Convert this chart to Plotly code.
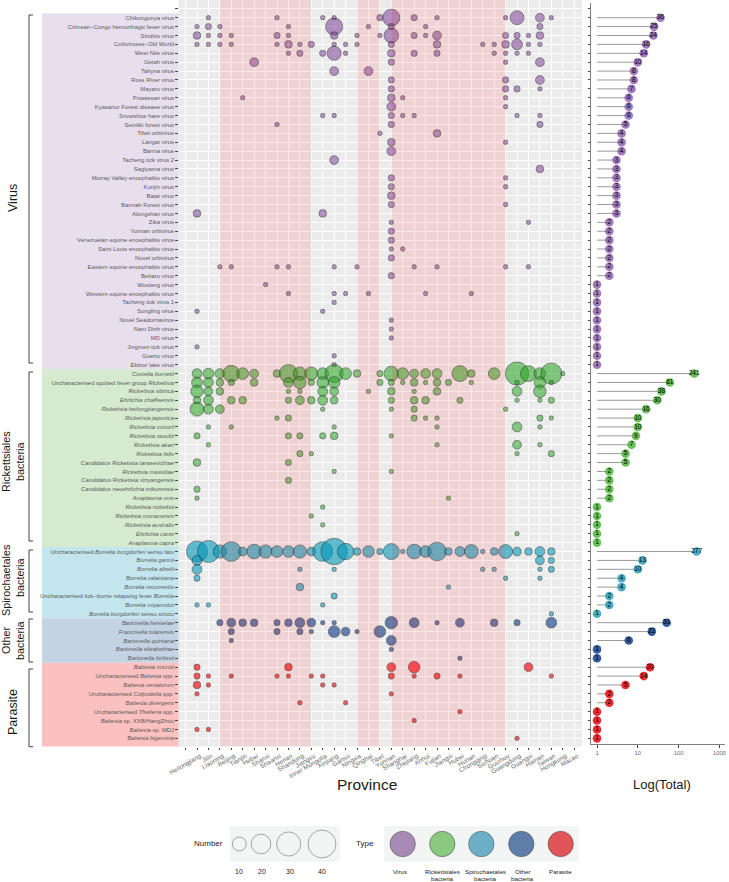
import math
import plotly.graph_objects as go

FONT = "Liberation Sans"
W, H = 729, 882

provinces = ["", "Heilongjiang", "Jilin", "Liaoning", "Beijing", "Tianjin", "Hebei", "Shanxi", "Shaanxi",
             "Henan", "Shandong", "Jiangsu", "Inner Mongolia", "Xinjiang", "Gansu", "Ningxia", "Qinghai",
             "Tibet", "Yunnan", "Shanghai", "Zhejiang", "Anhui", "Fujian", "Jiangxi", "Hubei", "Hunan",
             "Chongqing", "Sichuan", "Guizhou", "Guangdong", "Guangxi", "Hainan", "Taiwan", "Hongkong", "Macao"]

virus_names = ["Chikungunya virus", "Crimean−Congo hemorrhagic fever virus", "Sindbis virus",
               "Coltiviruses−Old World", "West Nile virus", "Getah virus", "Tahyna virus", "Ross River virus",
               "Mayaro virus", "Powassan virus", "Kyasanur Forest disease virus", "Snowshoe hare virus",
               "Semliki forest virus", "Tibet orbivirus", "Langat virus", "Banna virus", "Tacheng tick virus 2",
               "Sagiyama virus", "Murray Valley encephalitis virus", "Kunjin virus", "Batai virus",
               "Barmah Forest virus", "Alongshan virus", "Zika virus", "Yunnan orbivirus",
               "Venezuelan equine encephalitis virus", "Saint Louis encephalitis virus", "Novel orbivirus",
               "Eastern equine encephalitis virus", "Bebaru virus", "Wuxiang virus",
               "Western equine encephalitis virus", "Tacheng tick virus 1", "Songling virus",
               "Novel Seadornavirus", "Nam Dinh virus", "MD virus", "Jingmen tick virus", "Guertu virus",
               "Ebinur lake virus"]
virus_totals = [36, 25, 24, 16, 14, 10, 8, 8, 7, 6, 6, 6, 5, 4, 4, 4, 3, 3, 3, 3, 3, 3, 3,
                2, 2, 2, 2, 2, 2, 2, 1, 1, 1, 1, 1, 1, 1, 1, 1, 1]

rick_names = ["<i>Coxiella burnetii</i>", "Uncharacterised spotted fever group <i>Rickettsia</i>",
              "<i>Rickettsia sibirica</i>", "<i>Ehrlichia chaffeensis</i>", "<i>Rickettsia heilongjiangensis</i>",
              "<i>Rickettsia japonica</i>", "<i>Rickettsia conorii</i>", "<i>Rickettsia raoultii</i>",
              "<i>Rickettsia akari</i>", "<i>Rickettsia felis</i>", "<i>Candidatus</i> Rickettsia tarasevichiae",
              "<i>Rickettsia massiliae</i>", "<i>Candidatus</i> Rickettsia xinyangensis",
              "<i>Candidatus</i> neoehrlichia mikurensis", "<i>Anaplasma ovis</i>", "<i>Rickettsia rickettsii</i>",
              "<i>Rickettsia monacensis</i>", "<i>Rickettsia australis</i>", "<i>Ehrlichia canis</i>",
              "<i>Anaplasma capra</i>"]
rick_totals = [241, 61, 38, 30, 16, 10, 10, 9, 7, 5, 5, 2, 2, 2, 2, 1, 1, 1, 1, 1]

spiro_names = ["Uncharacterised <i>Borrelia burgdorferi</i> sensu lato", "<i>Borrelia garinii</i>",
               "<i>Borrelia afzelii</i>", "<i>Borrelia valaisiana</i>", "<i>Borrelia recurrentis</i>",
               "Uncharacterised tick−borne relapsing fever <i>Borrelia</i>", "<i>Borrelia miyamotoi</i>",
               "<i>Borrelia burgdorferi</i> sensu stricto"]
spiro_totals = [277, 13, 10, 4, 4, 2, 2, 1]

other_names = ["<i>Bartonella henselae</i>", "<i>Francisella tularensis</i>", "<i>Bartonella quintana</i>",
               "<i>Bartonella elizabethae</i>", "<i>Bartonella birtlesii</i>"]
other_totals = [51, 22, 6, 1, 1]

parasite_names = ["<i>Babesia microti</i>", "Uncharacterised <i>Babesia</i> spp.", "<i>Babesia venatorum</i>",
                  "Uncharacterised <i>Colpodella</i> spp.", "<i>Babesia divergens</i>",
                  "Uncharacterised <i>Theileria</i> spp.", "<i>Babesia</i> sp. XXB/HangZhou",
                  "<i>Babesia</i> sp. MDJ", "<i>Babesia bigemina</i>"]
parasite_totals = [20, 14, 5, 2, 2, 1, 1, 1, 1]

# (row within group, province index with Heilongjiang = 0, number)
virus_cells = [
    (0,1,1),(0,7,1),(0,11,1),(0,12,1),(0,16,2),(0,17,15),(0,19,2),(0,21,1),(0,27,1),(0,28,10),(0,30,4),(0,31,1),
    (1,0,1),(1,1,2),(1,2,1),(1,8,1),(1,12,15),(1,15,1),(1,17,2),(1,20,1),(1,30,2),
    (2,0,3),(2,1,1),(2,2,1),(2,3,1),(2,7,2),(2,8,1),(2,12,3),(2,14,1),(2,16,1),(2,17,11),(2,19,2),(2,20,1),(2,21,4),(2,27,2),(2,28,2),(2,29,1),(2,30,3),
    (3,0,1),(3,1,1),(3,2,1),(3,3,1),(3,7,1),(3,8,3),(3,9,1),(3,10,2),(3,12,1),(3,13,1),(3,14,1),(3,17,2),(3,21,3),(3,25,1),(3,26,1),(3,27,3),(3,28,6),(3,29,1),(3,30,1),
    (4,8,1),(4,9,2),(4,11,2),(4,12,10),(4,13,1),(4,17,3),(4,19,2),(4,21,2),(4,26,1),(4,27,1),(4,28,1),(4,29,1),
    (5,5,4),(5,17,2),(5,27,1),(5,30,4),
    (6,12,4),(6,15,4),
    (7,17,2),(7,27,2),(7,30,4),
    (8,17,2),(8,27,2),(8,28,2),(8,30,1),
    (9,4,1),(9,17,3),(9,18,1),(9,27,1),
    (10,17,4),(10,27,1),
    (11,11,1),(11,12,1),(11,17,2),(11,18,1),(11,19,1),(11,28,1),(11,30,1),
    (12,7,1),(12,17,2),(12,30,2),
    (13,16,1),(13,21,3),
    (14,17,3),(14,27,1),
    (15,17,4),
    (16,12,4),
    (17,30,3),
    (18,17,2),(18,27,1),
    (19,17,2),(19,27,1),
    (20,17,3),
    (21,17,2),(21,27,1),
    (22,0,3),(22,11,3),
    (23,17,1),(23,29,1),
    (24,17,2),
    (25,17,2),
    (26,17,1),(26,18,1),
    (27,17,2),
    (28,2,1),(28,3,1),(28,7,1),(28,8,1),(28,12,1),(28,14,1),(28,19,1),(28,21,1),(28,27,1),(28,29,1),
    (29,17,2),
    (30,6,1),
    (31,8,1),(31,12,1),(31,13,1),(31,15,1),(31,20,1),(31,24,1),
    (32,12,1),
    (33,0,1),(33,11,1),
    (34,17,1),(35,17,1),(36,17,1),
    (37,0,1),
    (38,12,1),
    (39,12,1),
]

rick_cells = [
    (0,0,5),(0,1,6),(0,2,5),(0,3,14),(0,4,7),(0,5,4),(0,7,3),(0,8,17),(0,9,9),(0,10,9),(0,11,7),(0,12,17),(0,13,7),(0,14,3),
    (0,16,2),(0,17,11),(0,18,7),(0,19,4),(0,20,5),(0,21,5),(0,23,13),(0,24,3),(0,26,7),(0,28,28),(0,29,13),(0,30,7),(0,31,23),(0,32,1),
    (1,0,6),(1,1,5),(1,2,3),(1,3,2),(1,5,3),(1,8,5),(1,9,8),(1,10,2),(1,11,7),(1,12,7),
    (1,16,2),(1,17,2),(1,18,1),(1,19,3),(1,20,1),(1,21,3),(1,22,2),(1,24,1),(1,28,1),(1,30,7),(1,31,1),
    (2,0,8),(2,1,4),(2,2,3),(2,8,1),(2,9,1),(2,11,5),(2,12,4),(2,15,1),(2,17,3),(2,19,1),(2,21,3),(2,28,5),(2,30,8),
    (3,0,3),(3,1,5),(3,3,3),(3,4,3),(3,8,2),(3,9,4),(3,10,3),(3,11,5),(3,12,3),(3,17,2),(3,19,3),(3,20,3),(3,23,2),(3,28,1),(3,30,1),(3,31,2),
    (4,0,10),(4,1,5),(4,2,4),(4,11,1),(4,17,1),(4,19,2),(4,27,1),
    (5,7,1),(5,8,2),(5,19,2),(5,20,1),(5,21,1),(5,30,2),(5,31,1),
    (6,1,1),(6,3,1),(6,12,1),(6,21,1),(6,28,5),(6,30,1),
    (7,0,2),(7,8,2),(7,9,2),(7,11,2),(7,12,3),(7,17,1),
    (8,1,1),(8,21,1),(8,28,4),(8,30,1),
    (9,9,2),(9,10,1),(9,28,1),(9,31,2),
    (10,0,3),(10,8,2),
    (11,12,1),(11,17,1),
    (12,8,2),
    (13,0,2),
    (14,0,1),(14,22,1),
    (15,11,1),
    (16,10,1),
    (17,11,1),
    (18,28,1),
]

spiro_cells = [
    (0,0,23),(0,1,25),(0,2,9),(0,3,20),(0,4,4),(0,5,11),(0,6,9),(0,7,7),(0,8,7),(0,9,9),(0,10,4),(0,11,20),(0,12,36),(0,13,14),(0,14,3),
    (0,15,7),(0,16,2),(0,17,13),(0,18,1),(0,19,11),(0,20,7),(0,21,18),(0,22,3),(0,23,5),(0,24,10),(0,25,1),(0,26,3),(0,27,10),(0,28,4),(0,29,3),(0,30,5),(0,31,3),
    (1,0,5),(1,30,4),(1,31,2),
    (2,0,5),(2,9,1),(2,12,1),(2,25,1),(2,26,1),(2,30,1),(2,31,2),
    (3,0,2),(3,27,1),(3,30,1),
    (4,9,3),(4,22,1),
    (5,12,2),
    (6,0,1),(6,1,1),(6,11,1),
    (7,31,1),
]

other_cells = [
    (0,2,2),(0,3,4),(0,4,3),(0,5,3),(0,7,2),(0,8,3),(0,9,5),(0,10,4),(0,11,1),(0,12,1),(0,17,8),(0,19,5),(0,21,1),(0,23,4),(0,26,3),(0,28,2),(0,31,6),
    (1,3,2),(1,7,2),(1,9,2),(1,10,1),(1,12,7),(1,13,4),(1,14,1),(1,16,7),
    (2,3,1),(2,17,5),
    (3,17,1),
    (4,23,1),
]

parasite_cells = [
    (0,0,2),(0,8,3),(0,17,4),(0,19,7),(0,29,4),
    (1,0,2),(1,1,1),(1,3,1),(1,7,1),(1,8,1),(1,10,1),(1,11,1),(1,17,2),(1,19,1),(1,21,2),(1,23,1),(1,31,1),
    (2,0,3),(2,1,1),(2,11,1),(2,12,1),
    (3,0,1),(3,17,1),
    (4,9,1),(4,13,1),
    (5,23,1),
    (6,19,1),
    (7,0,1),(7,1,1),
    (8,28,1),
]

legend_numbers = [10, 20, 30, 40]
type_labels = [["Virus"], ["Rickettsiales", "bacteria"], ["Spirochaetales", "bacteria"], ["Other", "bacteria"], ["Parasite"]]

groups = [
    (virus_names, virus_totals, virus_cells, "rgba(115,50,145,0.72)", "rgba(125,70,165,0.72)", "#E8DFEE", 40),
    (rick_names, rick_totals, rick_cells, "rgba(40,165,35,0.8)", "rgba(70,180,50,0.82)", "#D5EACF", 20),
    (spiro_names, spiro_totals, spiro_cells, "rgba(0,150,185,0.85)", "rgba(40,160,190,0.85)", "#C3E6EE", 8),
    (other_names, other_totals, other_cells, "rgba(15,60,135,0.9)", "rgba(25,70,140,0.88)", "#C3D3E3", 5),
    (parasite_names, parasite_totals, parasite_cells, "rgba(250,5,10,0.95)", "rgba(235,25,30,0.92)", "#FBC0C0", 9),
]
legend_fill = ["#A78BB6", "#8AC97F", "#6BB0C7", "#5E7DA9", "#E05558"]


def px_x(v):
    return v / W


def px_y(v):
    return 1 - v / H


def diameter(n):
    return 2 * 2.2 * math.sqrt(n)


# pixel frame of the panels
MAIN_L, MAIN_R, MAIN_T, MAIN_B = 178.7, 582.0, 0.0, 746.5
SIDE_L, SIDE_R, SIDE_T, SIDE_B = 591.0, 725.0, 3.0, 744.0
ROW0, ROWSTEP = 17.7, 8.897
COL0, COLSTEP = 197.0, 11.43


def row_at(py):
    return (py - ROW0) / ROWSTEP


def col_at(px):
    return (px - COL0) / COLSTEP


all_names = [""] + [n for g in groups for n in g[0]]
row_vals = list(range(-1, len(all_names) - 1))
col_vals = list(range(-1, len(provinces) - 1))

fig = go.Figure()
# grey main panel beneath the grid
shapes = [dict(type="rect", xref="x domain", yref="y domain", x0=0, x1=1, y0=0, y1=1,
               fillcolor="#EBEBEB", line_width=0, layer="below")]
annotations = []


def note(text, x, y, size, color="#1A1A1A", angle=0, xanchor="center"):
    annotations.append(dict(text=text, x=px_x(x), y=px_y(y), xref="paper", yref="paper", showarrow=False,
                            font=dict(family=FONT, size=size, color=color), textangle=angle,
                            xanchor=xanchor, yanchor="middle", align="center"))


offset = 0
for names, totals, cells, bubble_col, lolli_col, strip_col, nrows in groups:
    top = ROW0 + ROWSTEP * (offset - 0.5)
    bot = ROW0 + ROWSTEP * (offset + nrows - 0.5)
    if nrows == 9:
        bot = MAIN_B
    shapes.append(dict(type="rect", xref="paper", yref="paper", x0=px_x(42), x1=px_x(MAIN_L),
                       y0=px_y(top), y1=px_y(bot), fillcolor=strip_col, line_width=0, layer="below"))
    fig.add_trace(go.Scatter(
        x=[c[1] for c in cells], y=[c[0] + offset for c in cells], mode="markers",
        marker=dict(size=[diameter(c[2]) for c in cells], color=bubble_col,
                    line=dict(color="rgba(30,30,30,0.85)", width=0.8)),
        xaxis="x", yaxis="y", showlegend=False, hoverinfo="skip"))
    line_x, line_y = [], []
    rows = [offset + i for i in range(nrows)]
    for r, t in zip(rows, totals):
        line_x += [1, t, None]
        line_y += [r, r, None]
    fig.add_trace(go.Scatter(x=line_x, y=line_y, mode="lines", line=dict(color="#9A9A9A", width=1),
                             xaxis="x2", yaxis="y2", showlegend=False, hoverinfo="skip"))
    fig.add_trace(go.Scatter(
        x=totals, y=rows, mode="markers+text", text=[str(t) for t in totals], textposition="middle center",
        textfont=dict(family=FONT, size=6.6, color="#000000"),
        marker=dict(size=8.6, color=lolli_col, line_width=0),
        xaxis="x2", yaxis="y2", showlegend=False, hoverinfo="skip", cliponaxis=False))
    offset += nrows

# pink province bands lie over the bubbles
for c0, c1 in [(2, 10), (14, 16), (17, 27)]:
    shapes.append(dict(type="rect", xref="x", yref="y domain", x0=c0, x1=c1, y0=0, y1=1,
                       fillcolor="rgba(255,0,0,0.10)", line_width=0, layer="above"))

# group brackets and their titles
for y0, y1 in [(15, 363), (372, 541), (550, 612), (619, 662), (669, 746.7)]:
    p = f"M {px_x(33)} {px_y(y0)} L {px_x(29)} {px_y(y0)} L {px_x(29)} {px_y(y1)} L {px_x(33)} {px_y(y1)}"
    shapes.append(dict(type="path", xref="paper", yref="paper", path=p, line=dict(color="#444444", width=1)))

note("Virus", 13, 198, 12.5, angle=-90)
note("Rickettsiales", 6, 462, 10.8, angle=-90)
note("bacteria", 20, 462, 10.8, angle=-90)
note("Spirochaetales", 6, 580, 10.8, angle=-90)
note("bacteria", 20, 578, 10.8, angle=-90)
note("Other", 6, 641, 10.8, angle=-90)
note("bacteria", 20, 641, 10.8, angle=-90)
note("Parasite", 13, 712, 12.5, angle=-90)
note("Province", 367, 784, 15.5)
note("Log(Total)", 662, 784, 13)

# custom legend panels
for x0, x1 in [(230, 340), (384, 579)]:
    shapes.append(dict(type="rect", xref="paper", yref="paper", x0=px_x(x0), x1=px_x(x1), y0=px_y(826), y1=px_y(861.7),
                       fillcolor="#F3F5F5", line_width=0, layer="below"))
note("Number", 225, 843, 8, xanchor="right")
note("Type", 365, 843, 8)
number_x = [239.3, 261, 288.7, 322]
label_x = [239, 261.7, 290, 322]
fig.add_trace(go.Scatter(x=number_x, y=[844] * 4, mode="markers",
                         marker=dict(size=[diameter(n) for n in legend_numbers], color="rgba(0,0,0,0)",
                                     line=dict(color="#555555", width=0.7)),
                         xaxis="x3", yaxis="y3", showlegend=False, hoverinfo="skip"))
for n, x in zip(legend_numbers, label_x):
    note(str(n), x, 871.7, 7)
type_x = [402.7, 442.3, 481.3, 521.3, 560.7]
type_label_x = [400, 442.7, 485, 522.7, 560]
fig.add_trace(go.Scatter(x=type_x, y=[844] * 5, mode="markers",
                         marker=dict(size=25.4, color=legend_fill, line=dict(color="#555555", width=0.6)),
                         xaxis="x3", yaxis="y3", showlegend=False, hoverinfo="skip"))
for lab, x in zip(type_labels, type_label_x):
    for i, part in enumerate(lab):
        note(part, x, 871.7 + 6.3 * i, 6.2)

fig.update_layout(
    template="none",
    width=W, height=H, autosize=False, margin=dict(l=0, r=0, t=0, b=0, pad=0),
    paper_bgcolor="white", plot_bgcolor="rgba(0,0,0,0)", showlegend=False, font=dict(family=FONT),
    shapes=shapes, annotations=annotations,
    xaxis=dict(domain=[px_x(MAIN_L), px_x(MAIN_R)], range=[col_at(MAIN_L), col_at(MAIN_R)], anchor="y",
               tickmode="array", tickvals=col_vals, ticktext=provinces, tickangle=-30, automargin=False,
               ticklabelshift=3,
               tickfont=dict(family=FONT, size=6.4, color="#6A6A6A"), ticks="outside", ticklen=2.5, tickwidth=0.7,
               tickcolor="#444444", showgrid=True, gridcolor="white", gridwidth=0.9, zeroline=False, showline=False),
    yaxis=dict(domain=[px_y(MAIN_B), px_y(MAIN_T)], range=[row_at(MAIN_B), row_at(MAIN_T)], anchor="x",
               tickmode="array", tickvals=row_vals, ticktext=all_names, automargin=False,
               tickfont=dict(family=FONT, size=5.9, color="#5A5A5A"), ticks="outside", ticklen=2.5, tickwidth=0.7,
               tickcolor="#444444", showgrid=True, gridcolor="white", gridwidth=0.9, zeroline=False, showline=False),
    xaxis2=dict(domain=[px_x(SIDE_L), px_x(SIDE_R)], type="log", range=[-0.147, 3.137], anchor="y2", automargin=False,
                tickmode="array", tickvals=[1, 10, 100, 1000], ticktext=["1", "10", "100", "1000"],
                tickfont=dict(family=FONT, size=5.8, color="#6A6A6A"), ticks="outside", ticklen=2.5, tickwidth=0.7,
                tickcolor="#444444", showgrid=False, zeroline=False, showline=True, linecolor="#7F7F7F", linewidth=1.2),
    yaxis2=dict(domain=[px_y(SIDE_B), px_y(SIDE_T)], range=[row_at(SIDE_B), row_at(SIDE_T)], anchor="x2", automargin=False,
                tickmode="array", tickvals=row_vals, ticktext=[""] * len(row_vals), ticks="outside", ticklen=2,
                tickwidth=0.7, tickcolor="#444444", showgrid=False, zeroline=False, showline=True,
                linecolor="#7F7F7F", linewidth=1.2),
    xaxis3=dict(domain=[0, 1], range=[0, W], visible=False, anchor="y3", automargin=False),
    yaxis3=dict(domain=[0, 1], range=[H, 0], visible=False, anchor="x3", automargin=False),
)

fig.write_html("out.html", config={"displayModeBar": False},
               post_script="document.body.style.margin='0';document.documentElement.style.overflow='hidden';")
